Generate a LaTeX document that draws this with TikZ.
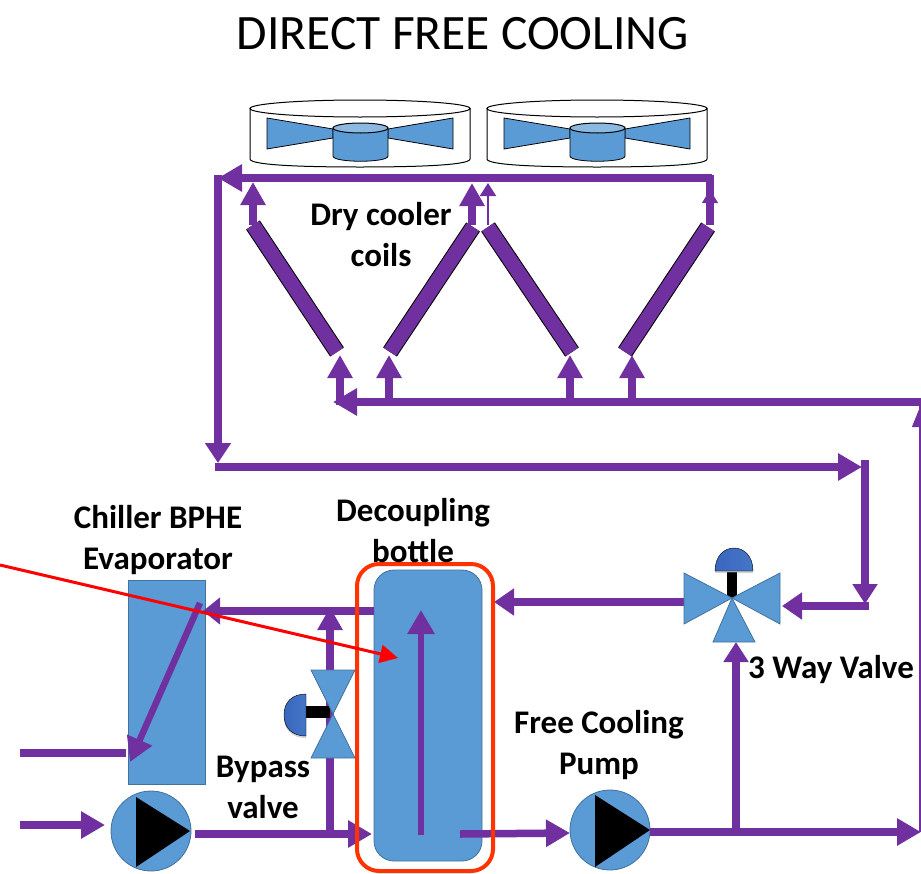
\documentclass[tikz,border=0pt]{standalone}
\usepackage{fontspec}
\setmainfont{Carlito}
\usetikzlibrary{positioning,calc,arrows.meta,shadows}
\definecolor{pipecol}{HTML}{7030A0}
\definecolor{unitcol}{HTML}{5B9BD5}
\definecolor{edgecol}{HTML}{41719C}
\definecolor{capcol}{HTML}{3A66BF}
\definecolor{markcol}{HTML}{FF3300}
\tikzset{
    pipe/.style={pipecol, line width=7.5pt, -{Triangle[length=24pt,width=26pt]}},
    pipeplain/.style={pipecol, line width=7.5pt},
    thinpipe/.style={pipecol, line width=2pt, -{Triangle[length=13pt,width=16pt]}},
    coil/.style={draw=black, double=pipecol, double distance=14.5pt, line width=1pt},
    unit/.style={fill=unitcol, draw=edgecol, line width=0.8pt},
    pumpbody/.style={circle, fill=unitcol, draw=edgecol, line width=0.8pt, minimum size=80pt, inner sep=0pt},
    label/.style={font=\bfseries\fontsize{33}{41}\selectfont, align=center, inner sep=0pt, text=black},
    capshape/.style={left color=capcol, right color=capcol!70!unitcol, drop shadow={shadow xshift=0pt, shadow yshift=-2pt, opacity=0.35}},
}
\begin{document}
\begin{tikzpicture}[x=1pt,y=-1pt]
    \useasboundingbox (0,0) rectangle (921,873);
    \node[font=\fontsize{49.5}{52}\selectfont, inner sep=0pt] (title) at (463,34) {DIRECT FREE COOLING};

    % Fans
    \foreach \x/\n in {0/fanA,237/fanB} {
        \begin{scope}[xshift=\x pt]
            \draw[black, line width=1pt, fill=white] (250,108) -- (250,159) .. controls (250,165) and (300,167) .. (360,167) .. controls (420,167) and (470,165) .. (470,159) -- (470,108);
            \draw[black, line width=1pt, fill=white] (360,108.5) ellipse (110pt and 8.5pt);
            \draw[unit, draw=black] (267,118) -- (333,129) -- (333,138) -- (267,149) -- cycle;
            \draw[unit, draw=black] (453,118) -- (388,129) -- (388,138) -- (453,149) -- cycle;
            \draw[unit, draw=black] (333,128) -- (333,156) .. controls (333,163) and (388,163) .. (388,156) -- (388,128) -- cycle;
            \draw[black, line width=1pt, fill=unitcol!70!white] (360.5,128) ellipse (27.5pt and 5pt);
        \end{scope}
    }

    % Coils
    \coordinate (coilAtop) at (253,225);
    \coordinate (coilAbot) at (337,352);
    \coordinate (coilBtop) at (473,227);
    \coordinate (coilBbot) at (390,352);
    \coordinate (coilCtop) at (488,227);
    \coordinate (coilCbot) at (572,352);
    \coordinate (coilDtop) at (708,227);
    \coordinate (coilDbot) at (625,352);
    \foreach \c in {A,B,C,D} {
        \draw[coil] (coil\c top) -- (coil\c bot);
    }

    % Top header
    \coordinate (hdrTopR) at (712,178);
    \coordinate (hdrTopL) at (218,178);
    \coordinate (leftLow) at (218,467);
    \draw[pipe] (hdrTopR) -- (hdrTopL);
    \draw[pipeplain] (710,175) -- (710,225);
    \draw[pipe, -{Triangle[length=20pt,width=25pt]}] ($(hdrTopL)+(0,-3)$) -- (218,463);
    \draw[pipe, -{Triangle[length=23pt,width=24pt]}] (253,225) -- (253,182);
    \draw[pipe, -{Triangle[length=23pt,width=24pt]}] (472,225) -- (472,183);
    \draw[thinpipe] (488,225) -- (488,183);
    \draw[thinpipe, line width=1pt] (710,205) -- (710,190);

    % Lower header
    \coordinate (hdrLowR) at (921,402);
    \coordinate (hdrLowL) at (333,402);
    \draw[pipe] (hdrLowR) -- (hdrLowL);
    \foreach \x in {340,389,570,632} {
        \draw[pipe, -{Triangle[length=23pt,width=24pt]}] (\x,405) -- (\x,355);
    }

    % Middle run to 3 way valve
    \coordinate (midR) at (865,467);
    \coordinate (valveIn) at (865,606);
    \draw[pipe] (214.5,467) -- (862,467);
    \draw[pipe, -{Triangle[length=20pt,width=24pt]}] (865,460) -- (865,604);
    \draw[pipe, -{Triangle[length=20pt,width=26pt]}] (869,606) -- (782,606);

    % Bottle
    \node[fill=unitcol, draw=edgecol, line width=0.8pt, rounded corners=20pt, minimum width=108pt, minimum height=291pt, inner sep=0pt] (bottle) at (428,715.5) {};

    % Chiller
    \node[unit, rectangle, minimum width=77pt, minimum height=204pt, inner sep=0pt] (chiller) at (166.5,682) {};

    % Pumps
    \node[pumpbody] (pumpA) at (151,831) {};
    \fill[black] (136,797) -- (190,831) -- (136,867) -- cycle;
    \node[pumpbody] (pumpB) at (610,830) {};
    \fill[black] (595,795) -- (650,830) -- (595,867) -- cycle;

    % Bottom pipes
    \coordinate (chilOut) at (20,753);
    \coordinate (chilIn) at (20,825);
    \coordinate (outEnd) at (921,832);
    \draw[pipeplain] (chilOut) -- (126,753);
    \draw[pipe] (chilIn) -- (105,825);
    \draw[pipe] (195,834) -- (372,834);
    \draw[pipe] (460,834) -- (570,833);
    \draw[pipeplain] (650,832) -- (736,832);
    \draw[pipe] (736,832) -- (outEnd);
    \draw[pipecol, line width=2pt] (920,402) -- (920,832);
    \draw[pipecol, line width=1pt, -{Triangle[length=20pt,width=16pt]}] (920,440) -- (920,407);

    % Flows from the bottle
    \draw[pipe, line width=6.5pt] (421,835) -- (421,610);
    \draw[pipe, -{Triangle[length=17pt,width=26pt]}] (374,611) -- (203,611);
    \draw[pipe, line width=6.5pt, -{Triangle[length=24pt,width=26pt]}] (200,603) -- (130,762);
    \draw[pipe, -{Triangle[length=20pt,width=26pt]}] (684,602) -- (494,602);

    % Bypass branch
    \draw[pipe, -{Triangle[length=23pt,width=24pt]}] (330,834) -- (330,607);
    \draw[black, line width=12pt] (306,712) -- (330,712);
    \draw[capshape] (306,694) .. controls (292,694) and (284,702) .. (284,715) .. controls (284,728) and (292,736) .. (306,736) -- cycle;
    \draw[unit] (311,670) -- (355,670) -- (311,758) -- (355,758) -- cycle;

    % 3 way valve
    \draw[pipe, -{Triangle[length=20pt,width=24pt]}] (736,832) -- (736,642);
    \draw[black, line width=10pt] (732,572) -- (732,598);
    \draw[capshape] (715,571) .. controls (715,556) and (724,548) .. (734,548) .. controls (744,548) and (753,556) .. (753,571) -- cycle;
    \draw[unit] (732,598) -- (684,573) -- (684,624) -- cycle;
    \draw[unit] (732,598) -- (780,573) -- (780,624) -- cycle;
    \draw[unit] (732,598) -- (713,642) -- (755,642) -- cycle;

    % Marker round the bottle
    \draw[markcol, line width=4pt, rounded corners=22pt] (357,564) rectangle (493,871);

    % Labels
    \node[label] (coilLbl) at (381,235) {Dry cooler\\coils};
    \node[label] (chillerLbl) at (158,540) {Chiller BPHE\\Evaporator};
    \node[label] (bottleLbl) at (413,531) {Decoupling\\bottle};
    \node[label] (bypassLbl) at (263,787) {Bypass\\valve};
    \node[label] (pumpLbl) at (599,745) {Free Cooling\\Pump};
    \node[label] (valveLbl) at (831,670) {3 Way Valve};

    % Pointer
    \coordinate (ptrStart) at (0,565);
    \coordinate (ptrEnd) at (398,658);
    \draw[red, line width=3pt, -{Triangle[length=18pt,width=18pt]}] (ptrStart) -- (ptrEnd);
\end{tikzpicture}
\end{document}
